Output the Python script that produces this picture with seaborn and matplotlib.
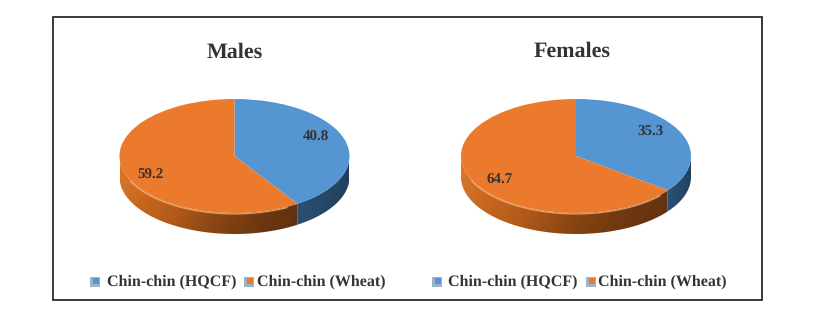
import numpy as np
import matplotlib
matplotlib.use("Agg")
import matplotlib.pyplot as plt
from matplotlib.colors import LinearSegmentedColormap
from matplotlib.patches import Polygon, Rectangle
import seaborn as sns

groups = ["Males", "Females"]
categories = ["Chin-chin (HQCF)", "Chin-chin (Wheat)"]
males = [40.8, 59.2]
females = [35.3, 64.7]

W, H = 824, 325
sns.set_theme(style="white")
plt.rcParams["font.family"] = ["Liberation Serif", "DejaVu Serif"]
plt.rcParams["font.weight"] = "bold"
plt.rcParams["text.hinting"] = "no_hinting"
plt.rcParams["text.hinting_factor"] = 1

palette = ["#5596D2", "#EC7A2C"]
text_col = "#333333"
orange_rim = LinearSegmentedColormap.from_list("o", ["#DD7A30", "#C9681F", "#B25A1B", "#8A4513", "#6E3810", "#5E300F"])
blue_rim = LinearSegmentedColormap.from_list("b", ["#2C5275", "#264A69", "#1E3C57"])
rim_cmaps = [blue_rim, orange_rim]


def px_axes(l, t, w, h):
    return fig.add_axes([l / W, 1 - (t + h) / H, w / W, h / H])


def pie3d(cx, values, title, title_x, title_y, label_xy):
    # cx, rx etc in picture pixels
    rx, ry, cy, depth = 115, 57, 156, 21
    d = depth / ry
    ax = px_axes(cx - rx, cy - ry, 2 * rx, 2 * ry + depth)
    wedges, _ = ax.pie(values, colors=palette, startangle=90, counterclock=False,
                       wedgeprops=dict(linewidth=0, zorder=5))
    ax.set_aspect("auto")
    ax.axis("off")

    # rim below the top face, one gradient per slice
    for w, cm in zip(wedges, rim_cmaps):
        t1, t2 = sorted((w.theta1, w.theta2))
        th = np.radians(np.linspace(t1, t2, 300))
        th = th[np.sin(th) <= 0.02]
        xs, ys = np.cos(th), np.sin(th)
        verts = np.r_[np.c_[xs, ys], np.c_[xs, ys - d][::-1]]
        clip = Polygon(verts, closed=True, transform=ax.transData, fc="none", ec="none")
        ax.add_patch(clip)
        gx = np.linspace(0, 1, 256)
        gy = np.linspace(0, 1, 64)[:, None]
        grad = gx * 0.8 + gy * 0.2
        im = ax.imshow(grad, extent=(xs.min(), xs.max(), -1 - d, 0.1), cmap=cm,
                       aspect="auto", zorder=3, vmin=0, vmax=1)
        im.set_clip_path(clip)
    ax.set_xlim(-1, 1)
    ax.set_ylim(-1 - d, 1)

    # pale highlight where the top face meets the rim, stops before the slice edge
    orange_end = 360 + 90 - 360 * values[0] / sum(values)
    th = np.radians(np.linspace(205, orange_end - 6, 120))
    ax.plot(np.cos(th), np.sin(th) - 0.015, color="#F6B27C", lw=1.0, alpha=0.8, zorder=6)

    for v, (lx, ly) in zip(values, label_xy):
        fig.text(lx / W, 1 - ly / H, f"{v:.1f}", ha="center", va="center",
                 fontsize=11, color=text_col, zorder=10)
    fig.text(title_x / W, 1 - title_y / H, title, ha="center", va="center",
             fontsize=16, color=text_col)


def legend_row(x_positions, swatch_positions, y):
    for x, sx, cat, col in zip(x_positions, swatch_positions, categories, palette):
        fig.add_artist(Rectangle((sx / W, 1 - (y + 5) / H), 10 / W, 10 / H,
                                 transform=fig.transFigure, fc="#9DB2C4", ec="none"))
        fig.add_artist(Rectangle(((sx + 3) / W, 1 - (y + 2) / H), 6 / W, 6 / H,
                                 transform=fig.transFigure, fc=col, ec="none"))
        fig.text(x / W, 1 - y / H, cat, ha="left", va="center", fontsize=11.3, color=text_col)


fig = plt.figure(figsize=(W / 100, H / 100), dpi=100, facecolor="white")

pie3d(234.5, males, groups[0], 235, 52, [(316, 137), (151, 175)])
pie3d(576, females, groups[1], 572, 51, [(651, 132), (500, 180)])
legend_row([107, 257], [90, 244], 282)
legend_row([448, 598], [432, 586], 282)

fig.add_artist(Rectangle((52.5 / W, 1 - 300 / H), 709 / W, 283 / H, transform=fig.transFigure,
                         fc="none", ec="#2A2A2A", lw=1.3))

fig.savefig("out.png", dpi=100)
